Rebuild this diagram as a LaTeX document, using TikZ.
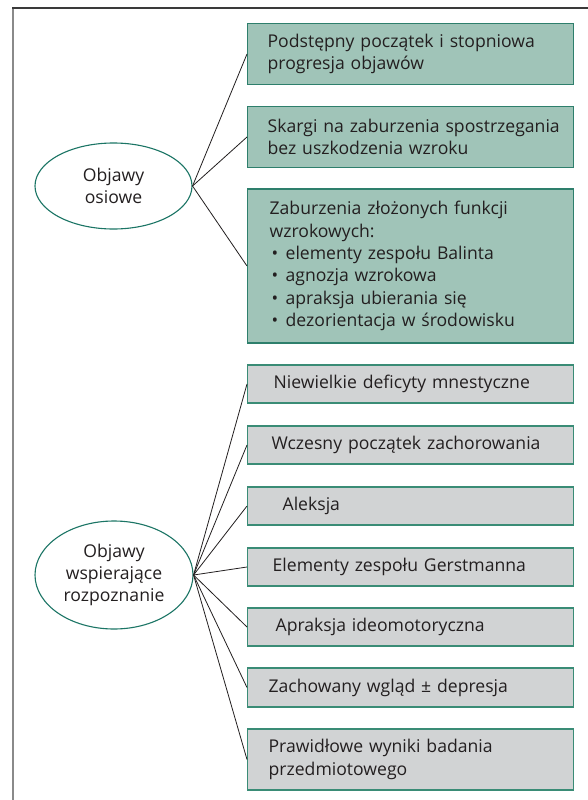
\documentclass[tikz,border=0pt]{standalone}
\usepackage{fontspec}
\setmainfont{Open Sans}
\usetikzlibrary{shapes.geometric}
\definecolor{gfill}{HTML}{A0C4B8}
\definecolor{gborder}{HTML}{2E7F6C}
\definecolor{grfill}{HTML}{D1D3D4}
\definecolor{grborder}{HTML}{3A8C76}
\definecolor{ellborder}{HTML}{1B7565}
\definecolor{txt}{HTML}{231F20}
\definecolor{frametop}{HTML}{3A3A3A}
\definecolor{frameleft}{HTML}{8A8A8A}
\hyphenpenalty=10000
\exhyphenpenalty=10000
\hbadness=10000
\hfuzz=50pt
\begin{document}
\begin{tikzpicture}[x=1pt,y=-1pt,
  every node/.style={font=\fontsize{17.6}{22.3}\selectfont, text=txt},
  greenbox/.style={draw=gborder, line width=1.3pt, fill=gfill, rectangle, anchor=west,
    minimum width=326pt, align=left, inner ysep=0pt},
  graybox/.style={draw=grborder, line width=1.3pt, fill=grfill, rectangle, anchor=west,
    minimum width=326pt, align=left, inner ysep=0pt},
  oval/.style={draw=ellborder, line width=1.1pt, ellipse, inner sep=0pt, align=center, fill=white},
  conn/.style={draw=txt, line width=0.8pt}]
\useasboundingbox (0,0) rectangle (588,800);
\fill[white] (0,0) rectangle (588,800);
% frame
\draw[frameleft, line width=2pt] (13,7.5) -- (13,800);
\draw[frametop, line width=1.5pt] (12,8) -- (588,8);

% upper group
\node[oval, minimum width=157pt, minimum height=86pt] (e1) at (113.5,186) {Objawy\\osiowe};
\node[greenbox, minimum height=61pt, inner xsep=20pt, text width=286pt] (b1) at (247,54)
  {Podstępny początek i stopniowa\\progresja objawów};
\node[greenbox, minimum height=61pt, inner xsep=20pt, text width=286pt] (b2) at (247,137)
  {\mbox{Skargi na zaburzenia spostrzegania}\\bez uszkodzenia wzroku};
\node[greenbox, minimum height=154pt, inner xsep=22pt, text width=282pt] (b3) at (247,266)
  {Zaburzenia złożonych funkcji\\wzrokowych:\\
   \hspace*{2pt}\makebox[14pt][l]{•}elementy zespołu Balinta\\
   \hspace*{2pt}\makebox[14pt][l]{•}agnozja wzrokowa\\
   \hspace*{2pt}\makebox[14pt][l]{•}apraksja ubierania się\\
   \hspace*{2pt}\makebox[14pt][l]{•}dezorientacja w środowisku};
\draw[conn] (e1.east) -- (b1.west);
\draw[conn] (e1.east) -- (b2.west);
\draw[conn] (e1.east) -- (b3.west);

% lower group
\node[oval, minimum width=158pt, minimum height=108pt] (e2) at (114,575) {Objawy\\wspierające\\rozpoznanie};
\node[graybox, minimum height=38pt, inner xsep=26pt, text width=274pt] (c1) at (247,384)
  {Niewielkie deficyty mnestyczne};
\node[graybox, minimum height=38pt, inner xsep=24pt, text width=278pt] (c2) at (247,445)
  {Wczesny początek zachorowania};
\node[graybox, minimum height=38pt, inner xsep=35pt, text width=256pt] (c3) at (247,506)
  {Aleksja};
\node[graybox, minimum height=38pt, inner xsep=25pt, text width=276pt] (c4) at (247,567)
  {Elementy zespołu Gerstmanna};
\node[graybox, minimum height=38pt, inner xsep=28pt, text width=270pt] (c5) at (247,627)
  {Apraksja ideomotoryczna};
\node[graybox, minimum height=39pt, inner xsep=21pt, text width=284pt] (c6) at (247,687.5)
  {Zachowany wgląd ± depresja};
\node[graybox, minimum height=61pt, inner xsep=21pt, text width=284pt] (c7) at (247,759.5)
  {Prawidłowe wyniki badania\\przedmiotowego};
\foreach \n in {c1,c2,c3,c4,c5,c6,c7}{\draw[conn] (e2.east) -- (\n.west);}
\end{tikzpicture}
\end{document}
